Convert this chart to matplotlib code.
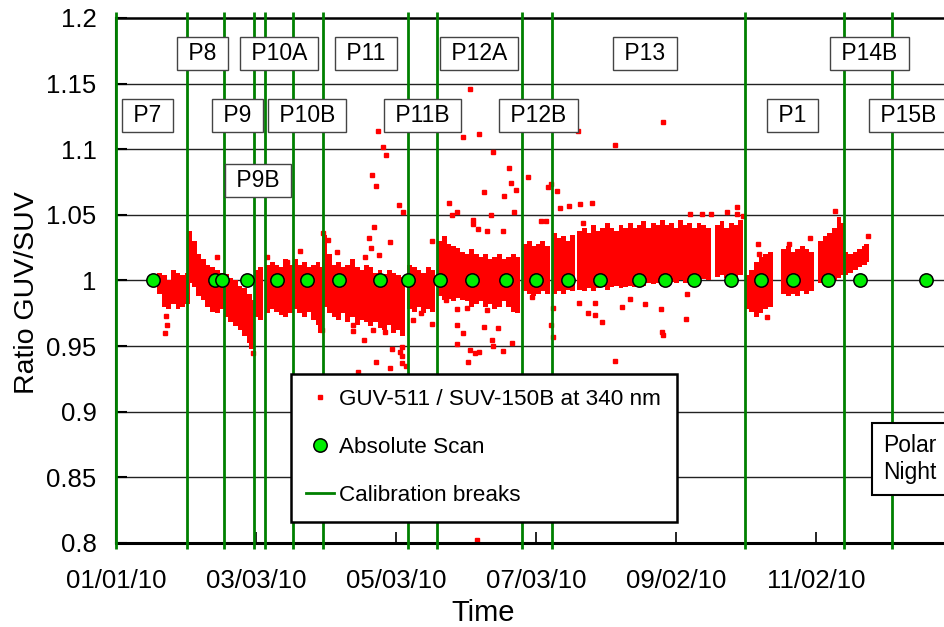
import numpy as np
import matplotlib
matplotlib.use("Agg")
import matplotlib.pyplot as plt
import matplotlib.dates as mdates

plt.rcParams['font.family'] = ['Liberation Sans', 'DejaVu Sans']

# day numbers are days since 01/01/2010
t0 = mdates.datestr2num('2010-01-01')

# dense band of GUV/SUV ratio (low / high edge, every ~2 days)
band_day = [19, 21, 23, 25, 27, 29, 31,
            32, 34, 36, 38, 40, 42, 44, 46,
            48, 50, 52, 54, 56, 58, 59,
            61, 63,
            66, 68, 70, 72, 74, 76,
            78, 80, 82, 84, 86, 88, 89,
            91, 93, 95, 97, 99, 101, 103, 105, 107, 109, 111, 113, 115, 117, 119, 121, 123, 125,
            128, 130, 132, 134, 136, 138,
            141, 143, 145, 147, 149, 151, 153, 155, 157, 159, 161, 163, 165, 167, 169, 171, 173, 175,
            178, 180, 182, 184, 186, 188,
            191, 193, 195, 197, 199, 202, 204, 206, 208, 210, 212, 214, 216, 218, 220, 222, 224, 226,
            228, 230, 232, 234, 236, 238, 240, 242, 244, 246, 248, 250, 252, 254, 256, 258,
            262, 264, 266, 268, 270, 272,
            275, 277, 279, 281, 283, 285, 291, 293, 295, 297, 299, 301, 303, 307, 309, 311, 313, 315, 316,
            318, 320, 322, 324, 326, 327]
band_lo = [0.990, 0.980, 0.978, 0.982, 0.978, 0.980, 0.982,
           0.998, 0.995, 0.988, 0.985, 0.980, 0.976, 0.975, 0.978,
           0.972, 0.968, 0.965, 0.962, 0.958, 0.952, 0.948,
           0.972, 0.970,
           0.975, 0.978, 0.976, 0.974, 0.972, 0.975,
           0.978, 0.975, 0.972, 0.976, 0.970, 0.966, 0.960,
           0.980, 0.975, 0.972, 0.970, 0.975, 0.968, 0.972, 0.966, 0.970, 0.968, 0.965, 0.968, 0.964,
           0.962, 0.966, 0.960, 0.962, 0.958,
           0.978, 0.976, 0.980, 0.975, 0.978, 0.976,
           0.988, 0.985, 0.986, 0.984, 0.987, 0.985, 0.984, 0.980, 0.982, 0.984, 0.980, 0.982, 0.978,
           0.980, 0.984, 0.980, 0.976, 0.975,
           0.992, 0.990, 0.988, 0.990, 0.992, 0.990,
           0.990, 0.992, 0.990, 0.993, 0.992, 0.993, 0.992, 0.994, 0.992, 0.994, 0.995, 0.993, 0.995,
           0.996, 0.994, 0.995, 0.996, 0.995, 0.997, 0.996, 0.998, 0.997, 0.998, 0.996, 0.998, 0.999,
           0.998, 1.000, 0.998, 1.000, 0.999, 1.000, 1.001, 1.000,
           1.003, 1.004, 1.002, 1.004, 1.003, 1.004,
           0.978, 0.976, 0.972, 0.975, 0.978, 0.980, 0.990, 0.988, 0.990, 0.988, 0.992, 0.990, 0.992,
           0.998, 1.000, 0.998, 1.000, 1.002, 1.004,
           1.004, 1.006, 1.008, 1.010, 1.012, 1.014]
band_hi = [1.006, 1.004, 1.000, 1.008, 1.006, 1.004, 1.006,
           1.038, 1.030, 1.020, 1.016, 1.012, 1.010, 1.008, 1.006,
           1.005, 1.002, 1.000, 0.996, 0.994, 0.990, 0.985,
           1.008, 1.010,
           1.012, 1.014, 1.012, 1.010, 1.016, 1.012,
           1.016, 1.012, 1.014, 1.010, 1.012, 1.014, 1.010,
           1.035, 1.020, 1.012, 1.014, 1.010, 1.012, 1.016, 1.010, 1.008, 1.012, 1.010, 1.006, 1.008,
           1.005, 1.008, 1.006, 1.004, 1.003,
           1.012, 1.010, 1.008, 1.006, 1.010, 1.008,
           1.030, 1.034, 1.028, 1.026, 1.025, 1.022, 1.020, 1.024, 1.020, 1.018, 1.020, 1.016, 1.018,
           1.020, 1.016, 1.018, 1.020, 1.018,
           1.028, 1.030, 1.026, 1.028, 1.030, 1.026,
           1.036, 1.032, 1.034, 1.030, 1.035, 1.038, 1.040, 1.036, 1.042, 1.038, 1.040, 1.044, 1.040,
           1.038, 1.042, 1.040, 1.044, 1.040, 1.042, 1.045, 1.040, 1.044, 1.042, 1.046, 1.042, 1.044,
           1.040, 1.046, 1.042, 1.044, 1.040, 1.044, 1.042, 1.040,
           1.042, 1.045, 1.040, 1.044, 1.042, 1.046,
           1.004, 1.008, 1.014, 1.018, 1.020, 1.022, 1.024, 1.026, 1.022, 1.024, 1.026, 1.024, 1.022,
           1.030, 1.034, 1.036, 1.040, 1.048, 1.044,
           1.022, 1.020, 1.022, 1.024, 1.026, 1.028]

# scattered single readings outside the dense band
out_day = [21.4, 21.8, 22.0, 43.8, 59.5, 65.7, 74.4, 80.0, 89.8,
           90.3, 92.5, 95.4, 96.4, 103.2, 103.4, 105.3, 108.2, 108.4, 110.4, 111.0, 111.4, 112.1,
           112.4, 113.3, 113.3, 114.3, 114.7, 116.5, 116.9, 117.2, 117.5, 119.4, 119.4, 120.4,
           121.6, 123.4, 123.7, 124.5, 124.6, 124.8, 125.2, 126.4,
           129.5, 132.7, 137.5, 137.5,
           143.6, 145.2, 146.3, 148.4, 148.4, 148.5, 148.7, 151.3, 151.3, 152.8, 153.5, 154.2,
           154.2, 155.4, 155.7, 156.4, 157.3, 157.6, 158.3, 158.3, 160.3, 160.3, 161.5, 161.8,
           163.4, 163.7, 164.4, 164.4, 166.6, 168.5, 168.8, 169.2, 171.4, 172.2, 172.7, 173.3, 174.3,
           179.4, 181.1, 185.2, 187.2, 188.4, 189.4, 189.4, 190.3, 190.5,
           192.3, 193.5, 197.4, 201.3, 201.6, 202.3, 203.6, 205.8, 207.4, 208.7, 208.7, 211.6,
           217.3, 217.4, 220.5, 224.0, 230.6, 237.3, 237.8, 238.2, 238.3, 248.4, 248.7, 250.1,
           255.2, 259.3, 266.1, 270.5, 270.5, 273.3,
           279.9, 280.3, 283.5, 293.4, 302.4, 313.3, 327.5]
out_val = [0.960, 0.973, 0.966, 1.018, 0.945, 1.018, 1.0144, 1.0227, 0.962,
           1.036, 1.031, 0.9755, 1.0216, 0.9616, 0.966, 0.9306, 0.9547, 1.018, 1.032, 1.0246, 1.080,
           0.9623, 1.041, 1.072, 0.938, 1.114, 1.0195, 1.1016, 0.970, 0.961, 1.0957, 1.029, 0.933,
           0.9476, 0.965, 1.0576, 0.9458, 0.9425, 0.9496, 0.9374, 1.052, 0.9349,
           0.970, 0.975, 1.030, 0.9667,
           0.9852, 1.0594, 1.050, 0.978, 0.9514, 0.966, 1.052, 1.109, 0.9598, 0.9789, 0.938, 1.1458,
           0.947, 1.043, 1.046, 0.9446, 0.8023, 1.0396, 1.1115, 0.9453, 1.0678, 0.9649, 1.038, 0.9776,
           1.050, 0.9547, 1.098, 0.9504, 0.9636, 1.038, 0.9466, 1.064, 1.0856, 1.0746, 0.9522, 1.0523,
           1.069,
           1.079, 0.9877, 1.0457, 1.045, 1.0716, 1.0734, 0.966, 0.979, 0.957,
           1.0685, 1.055, 1.057, 1.114, 0.983, 1.058, 1.0437, 0.975, 1.059, 0.9738, 0.983, 0.968,
           1.103, 0.939, 0.980, 0.9857, 0.982, 0.978, 0.961, 0.9585, 1.121, 0.9705, 0.990, 1.0508,
           1.0505, 1.0505, 1.0525, 1.0563, 1.0505, 1.0495,
           1.0277, 1.0203, 0.9725, 1.028, 1.032, 1.053, 1.034]

# absolute scans (ratio = 1)
scan_day = [16, 43, 46, 57, 70, 83, 97, 115, 127, 141, 155, 170, 183, 197, 211, 228, 239, 252,
            268, 281, 295, 310, 324, 353]

# calibration breaks
break_day = [0, 31, 47, 60, 65, 77, 90, 127, 140, 177, 190, 274, 317, 338]

# period labels
period_txt = ['P7', 'P8', 'P9', 'P9B', 'P10A', 'P10B', 'P11', 'P11B', 'P12A', 'P12B',
              'P13', 'P1', 'P14B', 'P15B']
period_day = [13.6, 37.5, 52.9, 61.7, 70.9, 83.2, 108.9, 133.6, 158.2, 184.0,
              230.5, 294.6, 328.3, 345.1]
period_y = [1.1254, 1.1727, 1.1254, 1.0759, 1.1727, 1.1254, 1.1727, 1.1254, 1.1727, 1.1254,
            1.1727, 1.1254, 1.1727, 1.1254]

tick_dates = ['2010-01-01', '2010-03-03', '2010-05-03', '2010-07-03', '2010-09-02', '2010-11-02']

fig = plt.figure(figsize=(9.45, 6.27), dpi=100)
ax = fig.add_axes([0.1228, 0.1340, 0.8865, 0.8373])

# horizontal grid
for yv in np.arange(0.85, 1.151, 0.05):
    ax.axhline(yv, color='#222222', lw=1.0, zorder=1)

lo = np.array(band_lo)
hi = np.array(band_hi)
ax.bar(t0 + np.array(band_day), hi - lo, bottom=lo, width=2.15, color='#ff0000',
       linewidth=0, zorder=2)
ax.plot(t0 + np.array(out_day), out_val, 's', color='#ff0000', ms=2.8, ls='none', zorder=2,
        label='GUV-511 / SUV-150B at 340 nm')

ax.vlines(t0 + np.array(break_day), 0.7955, 1.2046, colors='#008000', lw=2.0,
          zorder=4, clip_on=False)
ax.plot([], [], color='#008000', lw=2.0, label='Calibration breaks')

ax.plot(t0 + np.array(scan_day), np.ones(len(scan_day)), 'o', ms=9.6, mfc='#00ee00',
        mec='black', mew=1.1, ls='none', zorder=5, label='Absolute Scan')

for s, d, yv in zip(period_txt, period_day, period_y):
    ax.text(t0 + d, yv, ' ' + s + ' ', ha='center', va='center', fontsize=16.5, zorder=6,
            bbox=dict(boxstyle='square,pad=0.22', fc='white', ec='#444444', lw=1.0))
ax.text(t0 + 334.2, 0.864, 'Polar\nNight', ha='left', va='center', fontsize=16.5, zorder=6,
        linespacing=1.2,
        bbox=dict(boxstyle='square,pad=0.5', fc='white', ec='black', lw=1.5))

ax.set_xlim(t0, t0 + 365)
ax.set_ylim(0.8, 1.2)
ax.set_yticks(np.arange(0.8, 1.201, 0.05))
ax.set_yticklabels(['0.8', '0.85', '0.9', '0.95', '1', '1.05', '1.1', '1.15', '1.2'])
ax.xaxis.set_major_locator(matplotlib.ticker.FixedLocator(mdates.datestr2num(tick_dates)))
ax.xaxis.set_major_formatter(mdates.DateFormatter('%m/%d/%y'))
ax.tick_params(axis='x', direction='in', length=8, width=1.2, pad=19, labelsize=18.5)
ax.tick_params(axis='y', direction='in', length=8, width=1.5, pad=14, labelsize=18.5)

ax.spines['right'].set_visible(False)
ax.spines['top'].set_linewidth(1.8)
ax.spines['bottom'].set_linewidth(2.2)
ax.spines['left'].set_linewidth(1.5)

ax.set_xlabel('Time', fontsize=21)
ax.xaxis.set_label_coords(0.438, -0.106)
ax.set_ylabel('Ratio GUV/SUV', fontsize=20.5)
ax.yaxis.set_label_coords(-0.091, 0.476)

h, l = ax.get_legend_handles_labels()
order = [l.index('GUV-511 / SUV-150B at 340 nm'), l.index('Absolute Scan'), l.index('Calibration breaks')]
leg = ax.legend([h[i] for i in order], [l[i] for i in order], loc='upper left',
                bbox_to_anchor=(0.2089, 0.3219), fontsize=16.2, frameon=True, fancybox=False,
                framealpha=1, edgecolor='black', borderpad=0.68, labelspacing=1.2,
                handlelength=1.25, handletextpad=0.22, borderaxespad=0, numpoints=1)
leg.get_frame().set_linewidth(1.8)
leg.set_zorder(10)

fig.savefig('out.png', dpi=100)
